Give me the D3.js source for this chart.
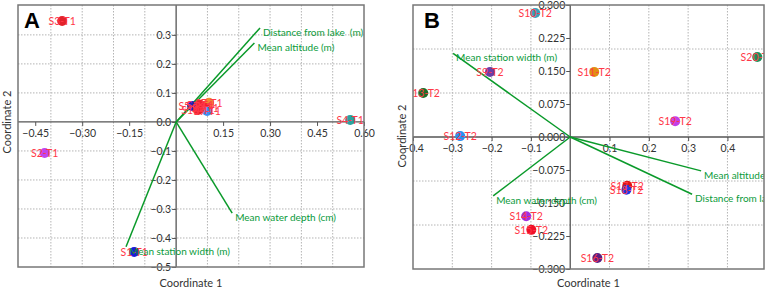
<!DOCTYPE html>
<html lang="en">
<head>
  <meta charset="UTF-8">
  <title>PCoA biplots</title>
  <script src="https://cdn.jsdelivr.net/npm/d3@7/dist/d3.min.js"></script>
  <style>
    body { margin: 0; background: #fff; }
    svg { display: block; font-family: Lato, "Noto Sans", sans-serif; }
  </style>
</head>
<body>
  <div id="root"></div>
  <script>
    // ---- panel A (T1) ----
    const samplesA = ['S3-T1', 'S2-T1', 'S1-T1', 'S4-T1', 'S5-T1', 'S6-T1', 'S7-T1', 'S8-T1', 'S9-T1', 'S10-T1'];
    const coord1A = [-0.364, -0.42, -0.134, 0.556, 0.051, 0.077, 0.105, 0.093, 0.099, 0.07];
    const coord2A = [0.348, -0.107, -0.448, 0.007, 0.055, 0.059, 0.066, 0.048, 0.038, 0.041];
    const vectorsA = ['Distance from lake  (m)', 'Mean altitude (m)', 'Mean water depth (cm)', 'Mean station width (m)'];
    const vec1A = [0.268, 0.25, 0.179, -0.16];
    const vec2A = [0.324, 0.272, -0.314, -0.43];
    const xTicksA = [-0.45, -0.30, -0.15, 0.15, 0.30, 0.45, 0.60];
    const yTicksA = [-0.5, -0.4, -0.3, -0.2, -0.1, 0.0, 0.1, 0.2, 0.3];
    const xGridA = [-0.4, -0.3, -0.2, -0.1, 0.1, 0.2, 0.3, 0.4, 0.5];
    const yGridA = [-0.4, -0.3, -0.2, -0.1, 0.1, 0.2, 0.3];

    // ---- panel B (T2) ----
    const samplesB = ['S10-T2', 'S9-T2', 'S13-T2', 'S12-T2', 'S11-T2', 'S20-T2', 'S19-T2', 'S14-T2', 'S15-T2', 'S17-T2', 'S18-T2', 'S16-T2'];
    const coord1B = [-0.089, -0.204, -0.374, -0.28, 0.061, 0.476, 0.267, -0.112, -0.099, 0.145, 0.143, 0.069];
    const coord2B = [0.282, 0.148, 0.1, 0.002, 0.148, 0.182, 0.036, -0.18, -0.211, -0.111, -0.12, -0.275];
    const vectorsB = ['Mean station width (m)', 'Mean water depth (cm)', 'Mean altitude (m)', 'Distance from lake  (m)'];
    const vec1B = [-0.298, -0.196, 0.333, 0.31];
    const vec2B = [0.19, -0.134, -0.077, -0.13];
    const xTicksB = [-0.4, -0.3, -0.2, -0.1, 0.1, 0.2, 0.3, 0.4];
    const yTicksB = [-0.300, -0.225, -0.150, -0.075, 0.000, 0.075, 0.150, 0.225, 0.300];
    const xGridB = [-0.3, -0.2, -0.1, 0.1, 0.2, 0.3, 0.4];
    const yGridB = [-0.2, -0.1, 0.1, 0.2];

    // point fill colours, one per sample
    const colorsA = ['#e3222b', '#c044ee', '#1a1ad8', '#2aa3a0', '#2222bb', '#ee2030', '#f08a30', '#f01c2c', '#3a8ef0', '#e8202c'];
    const colorsB = ['#3aa0b8', '#6a3fa8', '#1e6e2a', '#2a90f0', '#e09012', '#1f8f5c', '#c040e8', '#a030e0', '#f01028', '#e01414', '#2038e0', '#5a1f82'];

    const W = 768, H = 290;
    const svg = d3.create('svg').attr('width', W).attr('height', H);

    function panel(opt) {
      const { left, right, top, bottom, xDom, yDom } = opt;
      const x = d3.scaleLinear().domain(xDom).range([left, right]);
      const y = d3.scaleLinear().domain(yDom).range([bottom, top]);
      const g = svg.append('g');
      const clipId = 'clip' + opt.letter;
      svg.append('clipPath').attr('id', clipId)
        .append('rect').attr('x', left).attr('y', top).attr('width', right - left).attr('height', bottom - top);

      // grid
      g.selectAll('.vg').data(opt.xGrid).enter().append('line')
        .attr('x1', d => x(d)).attr('x2', d => x(d)).attr('y1', top).attr('y2', bottom)
        .attr('stroke', '#b4b4b4').attr('stroke-dasharray', '1.5,1.5');
      g.selectAll('.hg').data(opt.yGrid).enter().append('line')
        .attr('y1', d => y(d)).attr('y2', d => y(d)).attr('x1', left).attr('x2', right)
        .attr('stroke', '#b4b4b4').attr('stroke-dasharray', '1.5,1.5');

      // zero axes
      const xAxis = d3.axisBottom(x).tickValues(opt.xTicks).tickSize(4).tickFormat(opt.xFmt);
      const yAxis = d3.axisLeft(y).tickValues(opt.yTicks).tickSize(4).tickFormat(opt.yFmt);
      const gx = g.append('g').attr('transform', `translate(0,${y(0)})`).call(xAxis);
      const gy = g.append('g').attr('transform', `translate(${x(0)},0)`).call(yAxis);
      gx.select('.domain').remove();
      gy.select('.domain').remove();
      [gx, gy].forEach(a => {
        a.selectAll('line').attr('stroke', '#555');
        a.selectAll('text').attr('fill', '#333').style('font-size', '10.5px').style('font-family', 'Lato, sans-serif');
      });
      gx.selectAll('text').attr('y', 8);
      gy.selectAll('text').attr('x', -5);
      g.append('line').attr('x1', left).attr('x2', right).attr('y1', y(0)).attr('y2', y(0))
        .attr('stroke', '#555').attr('stroke-width', 1.3);
      g.append('line').attr('x1', x(0)).attr('x2', x(0)).attr('y1', top).attr('y2', bottom)
        .attr('stroke', '#555').attr('stroke-width', 1.3);

      const inner = g.append('g').attr('clip-path', `url(#${clipId})`);

      // vectors
      const vec = opt.vecNames.map((n, i) => ({ n, a: opt.vec1[i], b: opt.vec2[i] }));
      inner.selectAll('.vl').data(vec).enter().append('line')
        .attr('x1', x(0)).attr('y1', y(0)).attr('x2', d => x(d.a)).attr('y2', d => y(d.b))
        .attr('stroke', '#0a9a2a').attr('stroke-width', 1.5);

      // points
      const pts = opt.samples.map((s, i) => ({ s, a: opt.c1[i], b: opt.c2[i], col: opt.colors[i] }));
      inner.selectAll('circle').data(pts).enter().append('circle')
        .attr('cx', d => x(d.a)).attr('cy', d => y(d.b)).attr('r', 5)
        .attr('fill', d => d.col);
      inner.selectAll('.pl').data(pts).enter().append('text')
        .attr('x', d => x(d.a)).attr('y', d => y(d.b) + 4)
        .attr('text-anchor', 'middle').attr('fill', '#ff3848')
        .style('font-size', '10.5px').text(d => d.s);

      inner.selectAll('.vt').data(vec).enter().append('text')
        .attr('x', d => x(d.a) + 3).attr('y', d => y(d.b) + 8)
        .attr('fill', '#0a9a3a').style('font-size', '10px').style('white-space', 'pre').text(d => d.n);

      // frame
      g.append('rect').attr('x', left).attr('y', top).attr('width', right - left).attr('height', bottom - top)
        .attr('fill', 'none').attr('stroke', '#777').attr('stroke-width', 1.5);

      // panel letter
      g.append('text').attr('x', opt.letterX).attr('y', top + 23)
        .style('font-family', '"Liberation Sans", Arial, sans-serif').style('font-size', '22px').style('font-weight', 'bold')
        .text(opt.letter);

      // axis titles
      g.append('text').attr('x', (left + right) / 2).attr('y', 287).attr('text-anchor', 'middle')
        .attr('fill', '#333').style('font-size', '11px').text('Coordinate 1');
      g.append('text').attr('transform', `translate(${left - 7},${opt.yTitleY}) rotate(-90)`)
        .attr('text-anchor', 'middle').attr('fill', '#333').style('font-size', '11px').text('Coordinate 2');
    }

    panel({
      letter: 'A', letterX: 24, left: 18, right: 364, top: 5, bottom: 267,
      xDom: [-0.505, 0.6], yDom: [-0.5, 0.403], yTitleY: 122,
      xTicks: xTicksA, yTicks: yTicksA, xGrid: xGridA, yGrid: yGridA,
      xFmt: d3.format('.2f'), yFmt: d3.format('.1f'),
      samples: samplesA, c1: coord1A, c2: coord2A, colors: colorsA,
      vecNames: vectorsA, vec1: vec1A, vec2: vec2A
    });
    panel({
      letter: 'B', letterX: 424, left: 413, right: 764, top: 5, bottom: 269,
      xDom: [-0.4, 0.493], yDom: [-0.3, 0.3], yTitleY: 136,
      xTicks: xTicksB, yTicks: yTicksB, xGrid: xGridB, yGrid: yGridB,
      xFmt: d3.format('.1f'), yFmt: d3.format('.3f'),
      samples: samplesB, c1: coord1B, c2: coord2B, colors: colorsB,
      vecNames: vectorsB, vec1: vec1B, vec2: vec2B
    });

    document.getElementById('root').append(svg.node());
  </script>
</body>
</html>
